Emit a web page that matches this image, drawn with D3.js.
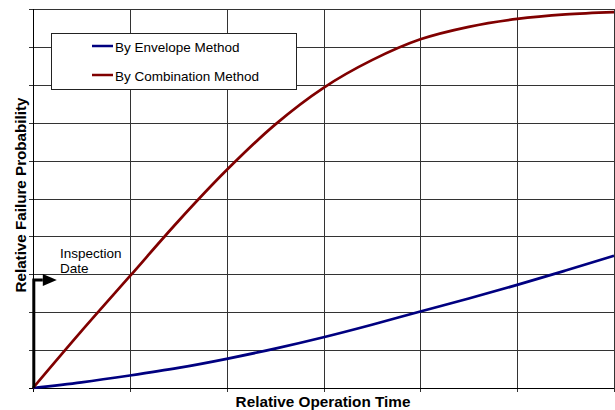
<!DOCTYPE html>
<html><head><meta charset="utf-8">
<script src="https://cdn.jsdelivr.net/npm/d3@7"></script>
<style>html,body{margin:0;padding:0;background:#fff;}svg{display:block;font-family:"Liberation Sans",Arial,sans-serif;}</style>
</head><body>
<script>
// Data (relative units)
const timeValues = [0,0.5,1,1.5,2,2.5,3,3.5,4,4.5,5,5.5,6];
const envelopeValues = [0,0.15,0.33,0.53,0.77,1.04,1.34,1.67,2.02,2.36,2.72,3.1,3.49];
const combinationValues = [0,1.5,2.95,4.4,5.75,6.95,7.92,8.65,9.2,9.53,9.74,9.86,9.92];
const seriesNames = ["By Envelope Method","By Combination Method"];
const seriesColors = ["#000080","#800000"];
const xTicks = [0,1,2,3,4,5,6];
const yTicks = [0,1,2,3,4,5,6,7,8,9,10];
const xTitle = "Relative Operation Time";
const yTitle = "Relative Failure Probability";
const annotation = ["Inspection","Date"];
const inspectionTime = 0;
const inspectionLevel = 2.85;

const W=615,H=410;
const m={l:33,r:1,t:9,b:22};
const svg=d3.select("body").append("svg").attr("width",W).attr("height",H);
const x=d3.scaleLinear().domain([0,6]).range([m.l,W-m.r]);
const y=d3.scaleLinear().domain([0,10]).range([H-m.b,m.t]);

// grid
const g=svg.append("g");
g.selectAll(".vg").data(xTicks).join("line")
 .attr("x1",d=>Math.round(x(d))+0.5).attr("x2",d=>Math.round(x(d))+0.5)
 .attr("y1",y(10)).attr("y2",y(0)+4).attr("stroke","#333").attr("stroke-width",1);
g.selectAll(".hg").data(yTicks).join("line")
 .attr("y1",d=>Math.round(y(d))+0.5).attr("y2",d=>Math.round(y(d))+0.5)
 .attr("x1",x(0)-4).attr("x2",x(6)).attr("stroke","#333").attr("stroke-width",1);
// axes
svg.append("line").attr("x1",Math.round(x(0))+0.5).attr("x2",Math.round(x(0))+0.5).attr("y1",y(10)).attr("y2",y(0)+4).attr("stroke","#000");
svg.append("line").attr("x1",x(0)-4).attr("x2",x(6)).attr("y1",Math.round(y(0))+0.5).attr("y2",Math.round(y(0))+0.5).attr("stroke","#000");

// series
const line=d3.line().x((d,i)=>x(timeValues[i])).y(d=>y(d)).curve(d3.curveCatmullRom.alpha(0.5));
[envelopeValues,combinationValues].forEach((vals,i)=>{
  svg.append("path").attr("d",line(vals)).attr("fill","none").attr("stroke",seriesColors[i]).attr("stroke-width",2.7);
});

// legend
const lg=svg.append("g");
lg.append("rect").attr("x",51.5).attr("y",33.5).attr("width",245).attr("height",56).attr("fill","#fff").attr("stroke","#222");
seriesNames.forEach((n,i)=>{
  const yy=46+i*29;
  lg.append("line").attr("x1",92).attr("x2",113).attr("y1",yy).attr("y2",yy).attr("stroke",seriesColors[i]).attr("stroke-width",2.5);
  lg.append("text").attr("x",115).attr("y",yy+6.3).attr("font-size",13.5).attr("fill","#000").text(n);
});

// inspection date arrow
const ax=x(inspectionTime)+0.8, ay=y(inspectionLevel);
svg.append("path").attr("d",`M${ax},${y(0)} L${ax},${ay} L${ax+9},${ay}`).attr("fill","none").attr("stroke","#000").attr("stroke-width",3);
svg.append("path").attr("d",`M${ax+9},${ay-6} L${ax+23},${ay} L${ax+9},${ay+6} Z`).attr("fill","#000");
annotation.forEach((t,i)=>{
  svg.append("text").attr("x",60).attr("y",257.5+i*15.3).attr("font-size",13.5).attr("fill","#000").text(t);
});

// axis titles
svg.append("text").attr("x",323).attr("y",407).attr("text-anchor","middle").attr("font-size",15.3).attr("font-weight","bold").text(xTitle);
svg.append("text").attr("transform","translate(25.5,195) rotate(-90)").attr("text-anchor","middle").attr("font-size",15.2).attr("font-weight","bold").text(yTitle);
</script>
</body></html>
